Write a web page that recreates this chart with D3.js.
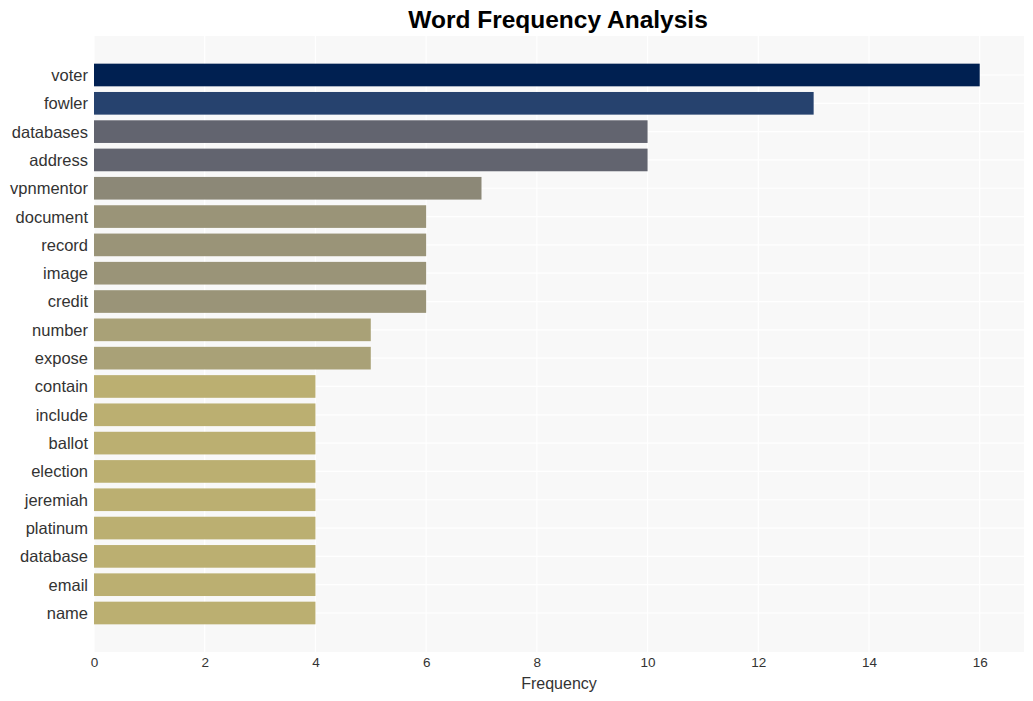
<!DOCTYPE html>
<html>
<head>
<meta charset="utf-8">
<script src="https://cdn.jsdelivr.net/npm/d3@7"></script>
<style>
body{margin:0;background:#fff;}
text{font-family:"Liberation Sans",Arial,sans-serif;}
</style>
</head>
<body>
<svg id="chart" width="1033" height="701"></svg>
<script>
const words = ["voter","fowler","databases","address","vpnmentor","document","record","image","credit","number","expose","contain","include","ballot","election","jeremiah","platinum","database","email","name"];
const counts = [16,13,10,10,7,6,6,6,6,5,5,4,4,4,4,4,4,4,4,4];
const xTicks = [0,2,4,6,8,10,12,14,16];
const title = "Word Frequency Analysis";
const xLabel = "Frequency";

const svg = d3.select("#chart");
const mLeft = 94, mRight = 1024, mTop = 36, mBottom = 652;

const x = d3.scaleLinear().domain([0, 16.8]).range([mLeft, mRight]);
const y = d3.scaleBand().domain(words).range([mTop, mBottom]).paddingInner(0.2).paddingOuter(0.977);
const maxV = d3.max(counts);
const color = v => d3.interpolateCividis(1 - v / maxV);

svg.append("rect").attr("x", mLeft).attr("y", mTop).attr("width", mRight-mLeft).attr("height", mBottom-mTop).attr("fill", "#f8f8f8");

// grid
svg.append("g").selectAll("line").data(xTicks).join("line")
  .attr("x1", d => x(d)).attr("x2", d => x(d)).attr("y1", mTop).attr("y2", mBottom)
  .attr("stroke", "#fff").attr("stroke-width", 1.2);
svg.append("g").selectAll("line").data(words).join("line")
  .attr("x1", mLeft).attr("x2", mRight)
  .attr("y1", d => y(d) + y.bandwidth()/2).attr("y2", d => y(d) + y.bandwidth()/2)
  .attr("stroke", "#fff").attr("stroke-width", 1.2);

// bars
svg.append("g").selectAll("rect").data(words).join("rect")
  .attr("x", x(0)).attr("y", d => y(d))
  .attr("width", (d,i) => x(counts[i]) - x(0))
  .attr("height", y.bandwidth())
  .attr("fill", (d,i) => color(counts[i]));

// y axis
const yAxis = d3.axisLeft(y).tickSize(0).tickPadding(6);
const gy = svg.append("g").attr("transform", `translate(${mLeft},0)`).call(yAxis);
gy.select(".domain").remove();
gy.selectAll("text").attr("font-size", "16.5px").attr("fill", "#333").attr("dy", "0.36em").attr("font-family", "'Liberation Sans',Arial,sans-serif");

// x axis
const xAxis = d3.axisBottom(x).tickValues(xTicks).tickSize(0).tickPadding(5);
const gx = svg.append("g").attr("transform", `translate(0,${mBottom})`).call(xAxis);
gx.select(".domain").remove();
gx.selectAll("text").attr("font-size", "13.5px").attr("fill", "#333").attr("font-family", "'Liberation Sans',Arial,sans-serif");

svg.append("text").attr("x", (mLeft+mRight)/2).attr("y", 689).attr("text-anchor", "middle")
  .attr("font-size", "16px").attr("fill", "#333").text(xLabel);

svg.append("text").attr("x", 558).attr("y", 28).attr("text-anchor", "middle")
  .attr("font-size", "24.5px").attr("font-weight", "bold").attr("fill", "#000").text(title);
</script>
</body>
</html>
